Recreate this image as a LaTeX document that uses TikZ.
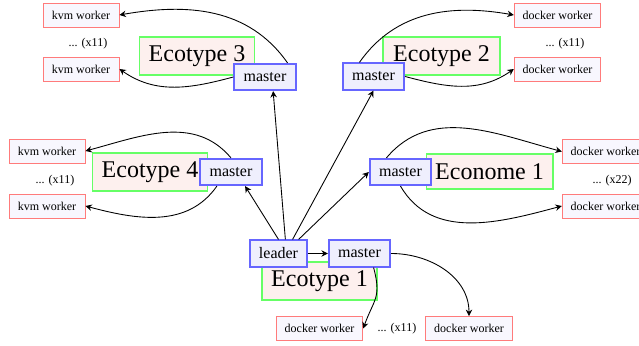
\documentclass[tikz,border=0pt]{standalone}
\usepackage{fontspec}
\setmainfont{Liberation Serif}
\usetikzlibrary{arrows.meta}
\definecolor{mblue}{HTML}{6666FF}
\definecolor{mfill}{HTML}{EFEFFD}
\definecolor{ecogreen}{HTML}{66FF66}
\definecolor{ecofill}{HTML}{FDF0EE}
\definecolor{wred}{HTML}{FF7B7B}
\definecolor{wfill}{HTML}{F8F7FE}
\begin{document}
\begin{tikzpicture}[x=0.625pt,y=0.625pt,
  ecobox/.style={draw=ecogreen, fill=ecofill, line width=1pt, minimum width=72pt, minimum height=23.5pt, inner sep=2pt, font=\fontsize{15}{18}\selectfont},
  masterbox/.style={draw=mblue, fill=mfill, line width=1.1pt, minimum width=38.5pt, minimum height=16.5pt, inner sep=2pt, font=\fontsize{10}{12}\selectfont},
  workerbox/.style={draw=wred, fill=wfill, line width=0.6pt, minimum height=15pt, inner xsep=4pt, inner ysep=2pt, font=\fontsize{7.5}{9}\selectfont},
  kvmbox/.style={workerbox, minimum width=47.5pt},
  dockerbox/.style={workerbox, minimum width=54pt},
  dotsnote/.style={font=\fontsize{7.5}{9}\selectfont, inner sep=1pt},
  conn/.style={line width=0.55pt, -{Stealth[length=4pt,width=4pt,inset=1.3pt]}}
]
\clip (0,0) rectangle (639,345);
\useasboundingbox (0,0) rectangle (639,345);

% Ecotype 3
\node[ecobox] (e3) at (197,289) {Ecotype 3};
\node[masterbox] (m3) at (265,268) {master};
\node[kvmbox] (k3a) at (81,330) {kvm worker};
\node[kvmbox] (k3b) at (81,276) {kvm worker};
\node[dotsnote] (n3) at (88,301) {... (x11)};

% Ecotype 2
\node[ecobox, minimum width=73pt] (e2) at (441.5,289) {Ecotype 2};
\node[masterbox] (m2) at (373.5,268.5) {master};
\node[dockerbox] (d2a) at (557.5,330) {docker worker};
\node[dockerbox] (d2b) at (557.5,276) {docker worker};
\node[dotsnote] (n2) at (565,301) {... (x11)};

% Ecotype 4
\node[ecobox] (e4) at (150,173) {Ecotype 4};
\node[masterbox] (m4) at (231,173) {master};
\node[kvmbox] (k4a) at (47,194) {kvm worker};
\node[kvmbox] (k4b) at (47,139) {kvm worker};
\node[dotsnote] (n4) at (55,164) {... (x11)};

% Econome 1
\node[ecobox, minimum width=79pt, minimum height=22pt] (en) at (489.5,173.5) {Econome 1};
\node[masterbox] (mn) at (400.5,173) {master};
\node[dockerbox] (dna) at (605.5,193.5) {docker worker};
\node[dockerbox] (dnb) at (605.5,139) {docker worker};
\node[dotsnote] (nn) at (612,164) {... (x22)};

% Ecotype 1
\node[ecobox] (e1) at (319.5,64) {Ecotype 1};
\node[masterbox, minimum width=35.5pt] (leader) at (278.5,91.5) {leader};
\node[masterbox] (m1) at (359.5,91.5) {master};
\node[dockerbox] (d1a) at (319.5,16.5) {docker worker};
\node[dockerbox] (d1b) at (469,16.5) {docker worker};
\node[dotsnote] (n1) at (397,16) {... (x11)};

% leader connections
\draw[conn] (leader) -- (m1);
\draw[conn] (leader.90) -- (m4.-45);
\draw[conn] (leader.64) -- (m3.-60);
\draw[conn] (leader.45) -- (m2.south);
\draw[conn] (leader.35) -- (mn.west);

% master to workers
\draw[conn] (m3.32) to[out=125, in=10] (k3a.east);
\draw[conn] (m3.west) to[out=195, in=-35] (k3b.east);
\draw[conn] (m2.135) to[out=55, in=170] (d2a.west);
\draw[conn] (m2.east) to[out=-15, in=215] (d2b.west);
\draw[conn] (m4.north) to[out=130, in=15] (k4a.east);
\draw[conn] (m4.225) to[out=235, in=-15] (k4b.east);
\draw[conn] (mn.135) to[out=50, in=165] (dna.west);
\draw[conn] (mn.south) to[out=-60, in=195] (dnb.west);
\draw[conn] (m1.-45) to[out=-75, in=70, looseness=1.3] (d1a.east);
\draw[conn] (m1.east) to[out=0, in=90] (d1b.north);
\end{tikzpicture}
\end{document}
